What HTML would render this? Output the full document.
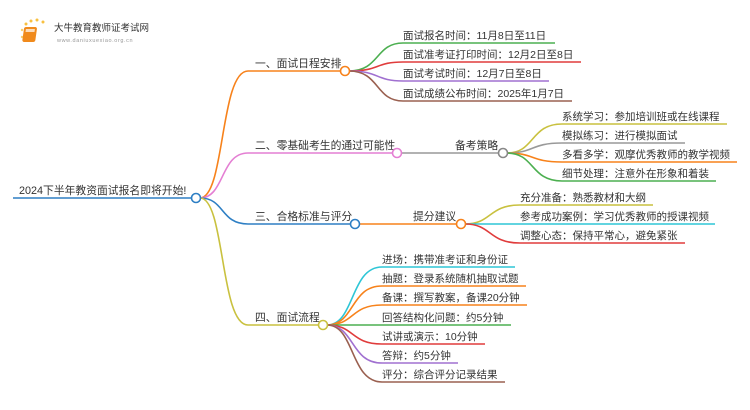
<!DOCTYPE html>
<html><head><meta charset="utf-8"><style>
html,body{margin:0;padding:0;background:#fff;}
svg{display:block;}
text{font-family:"Liberation Sans","Noto Sans CJK SC",sans-serif;fill:#333;}
.b{font-size:10.8px;}
.l{font-size:10.5px;}
path,line{fill:none;stroke-width:1.6;}
</style></head><body>
<svg width="750" height="410" viewBox="0 0 750 410" xmlns="http://www.w3.org/2000/svg">
<g>
<circle cx="26" cy="24" r="1.5" fill="#f8c040"/><circle cx="31" cy="21" r="1.5" fill="#f8c040"/><circle cx="37" cy="20" r="1.5" fill="#f8c040"/><circle cx="43" cy="22" r="1.5" fill="#f8c040"/><circle cx="22" cy="30" r="1.2" fill="#f8d070"/><circle cx="22" cy="37" r="1.2" fill="#f8d070"/>
<rect x="28" y="27" width="13" height="15" rx="2" fill="#f08a1c" transform="skewX(-8)"/>
<rect x="30" y="29" width="9" height="3" fill="#fff" opacity="0.7" transform="skewX(-8)"/>
<text x="54" y="31" style="font-size:9.5px;fill:#333">大牛教育教师证考试网</text>
<text x="57" y="42" style="font-size:5.5px;fill:#999;letter-spacing:0.6px">www.daniuxuexiao.org.cn</text>
</g>
<text x="19" y="194" class="b">2024下半年教资面试报名即将开始!</text>
<line x1="13" y1="198" x2="192" y2="198" stroke="#2e7fc4"/>
<path d="M200 198 C225 198 220 71 248 71 L341 71" stroke="#f7821b"/>
<path d="M200 198 C225 198 220 153 248 153 L393 153" stroke="#e47fd3"/>
<path d="M200 198 C225 198 220 224 248 224 L351 224" stroke="#2e7fc4"/>
<path d="M200 198 C225 198 220 325 248 325 L319 325" stroke="#c9c13f"/>
<text x="255" y="67" class="b">一、面试日程安排</text>
<text x="255" y="149" class="b">二、零基础考生的通过可能性</text>
<text x="255" y="220" class="b">三、合格标准与评分</text>
<text x="255" y="321" class="b">四、面试流程</text>
<path d="M349 71 C380 71 375 43 403 43 L555 43" stroke="#4caf50"/>
<path d="M349 71 C380 71 375 62 403 62 L581 62" stroke="#e03c3c"/>
<path d="M349 71 C380 71 375 81 403 81 L549 81" stroke="#a070d0"/>
<path d="M349 71 C380 71 375 101 403 101 L572 101" stroke="#9a6050"/>
<text x="403" y="39" class="l">面试报名时间：11月8日至11日</text>
<text x="403" y="58" class="l">面试准考证打印时间：12月2日至8日</text>
<text x="403" y="77" class="l">面试考试时间：12月7日至8日</text>
<text x="403" y="97" class="l">面试成绩公布时间：2025年1月7日</text>
<circle cx="345" cy="71" r="4.5" fill="#fff" stroke="#f7821b" stroke-width="1.6"/>
<line x1="401" y1="153" x2="499" y2="153" stroke="#999"/>
<text x="455" y="149" class="b">备考策略</text>
<path d="M507 153 C535 153 530 124 562 124 L727 124" stroke="#c9c13f"/>
<path d="M507 153 C535 153 530 143 562 143 L685 143" stroke="#999"/>
<path d="M507 153 C535 153 530 162 562 162 L737 162" stroke="#f7821b"/>
<path d="M507 153 C535 153 530 181 562 181 L716 181" stroke="#4caf50"/>
<text x="562" y="120" class="l">系统学习：参加培训班或在线课程</text>
<text x="562" y="139" class="l">模拟练习：进行模拟面试</text>
<text x="562" y="158" class="l">多看多学：观摩优秀教师的教学视频</text>
<text x="562" y="177" class="l">细节处理：注意外在形象和着装</text>
<circle cx="397" cy="153" r="4.5" fill="#fff" stroke="#e47fd3" stroke-width="1.6"/>
<circle cx="503" cy="153" r="4.5" fill="#fff" stroke="#888" stroke-width="1.6"/>
<line x1="359" y1="224" x2="457" y2="224" stroke="#f7821b"/>
<text x="413" y="220" class="b">提分建议</text>
<path d="M465 224 C492 224 488 205 520 205 L653 205" stroke="#c9c13f"/>
<path d="M465 224 L715 224" stroke="#2ec6d6"/>
<path d="M465 224 C492 224 488 243 520 243 L685 243" stroke="#e03c3c"/>
<text x="520" y="201" class="l">充分准备：熟悉教材和大纲</text>
<text x="520" y="220" class="l">参考成功案例：学习优秀教师的授课视频</text>
<text x="520" y="239" class="l">调整心态：保持平常心，避免紧张</text>
<circle cx="355" cy="224" r="4.5" fill="#fff" stroke="#2e7fc4" stroke-width="1.6"/>
<circle cx="461" cy="224" r="4.5" fill="#fff" stroke="#f7821b" stroke-width="1.6"/>
<path d="M327 325 C355 325 350 267 382 267 L515 267" stroke="#2ec6d6"/>
<path d="M327 325 C355 325 350 286 382 286 L526 286" stroke="#f7821b"/>
<path d="M327 325 C355 325 350 305 382 305 L527 305" stroke="#f7821b"/>
<path d="M327 325 L511 325" stroke="#4caf50"/>
<path d="M327 325 C355 325 350 344 382 344 L485 344" stroke="#e03c3c"/>
<path d="M327 325 C355 325 350 363 382 363 L458 363" stroke="#a070d0"/>
<path d="M327 325 C355 325 350 382 382 382 L505 382" stroke="#9a6050"/>
<text x="382" y="263" class="l">进场：携带准考证和身份证</text>
<text x="382" y="282" class="l">抽题：登录系统随机抽取试题</text>
<text x="382" y="301" class="l">备课：撰写教案，备课20分钟</text>
<text x="382" y="321" class="l">回答结构化问题：约5分钟</text>
<text x="382" y="340" class="l">试讲或演示：10分钟</text>
<text x="382" y="359" class="l">答辩：约5分钟</text>
<text x="382" y="378" class="l">评分：综合评分记录结果</text>
<circle cx="323" cy="325" r="4.5" fill="#fff" stroke="#c9c13f" stroke-width="1.6"/>
<circle cx="196" cy="198" r="4.5" fill="#fff" stroke="#2e7fc4" stroke-width="1.6"/>
</svg>
</body></html>
